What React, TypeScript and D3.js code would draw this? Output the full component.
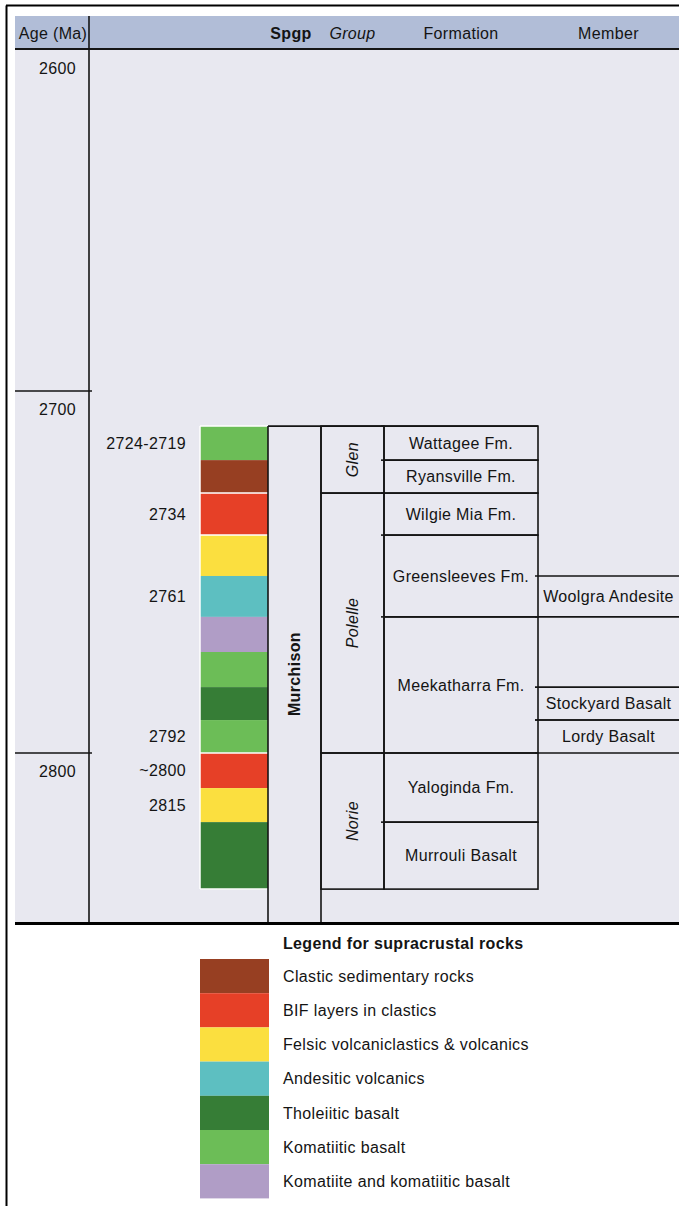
import React from "react";
import * as d3 from "d3";

// ---- Data ----
const ageTicks = [2600, 2700, 2800];
const ageTickPixels = [50, 391, 753]; // axis is not linear in the original

const rockTypes = [
  "Clastic sedimentary rocks",
  "BIF layers in clastics",
  "Felsic volcaniclastics & volcanics",
  "Andesitic volcanics",
  "Tholeiitic basalt",
  "Komatiitic basalt",
  "Komatiite and komatiitic basalt",
];
const rockColors = ["#973f22", "#e64027", "#fbdf3f", "#5dbfc1", "#367d36", "#6cbd57", "#b09dc6"];

// layers: top age, base age, rock type index, age label
const layerTops = [2709.7, 2719.1, 2728.2, 2739.8, 2751.1, 2762.4, 2772.1, 2781.8, 2790.9, 2800, 2809.7, 2819.1];
const layerBases = [2719.1, 2728.2, 2739.8, 2751.1, 2762.4, 2772.1, 2781.8, 2790.9, 2800, 2809.7, 2819.1, 2837.6];
const layerRocks = [5, 0, 1, 2, 3, 6, 5, 4, 5, 1, 2, 4];
const layerAgeLabels = ["2724-2719", "", "2734", "", "2761", "", "", "", "2792", "~2800", "2815", ""];

const supergroupName = "Murchison";
const supergroupTop = 2709.7;
const columnBase = 2846.7;

const groupNames = ["Glen", "Polelle", "Norie"];
const groupTops = [2709.7, 2728.2, 2800];
const groupBases = [2728.2, 2800, 2837.6];

const formationNames = ["Wattagee Fm.", "Ryansville Fm.", "Wilgie Mia Fm.", "Greensleeves Fm.", "Meekatharra Fm.", "Yaloginda Fm.", "Murrouli Basalt"];
const formationTops = [2709.7, 2719.1, 2728.2, 2739.8, 2762.4, 2800, 2819.1];
const formationBases = [2719.1, 2728.2, 2739.8, 2762.4, 2800, 2819.1, 2837.6];

const memberNames = ["Woolgra Andesite", "Stockyard Basalt", "Lordy Basalt"];
const memberTops = [2751.1, 2781.8, 2790.9];
const memberBases = [2762.4, 2790.9, 2800];

const headerLabels = ["Age (Ma)", "Spgp", "Group", "Formation", "Member"];

// ---- Layout ----
const W = 679;
const H = 1206;
const FONT = "'Liberation Sans', Arial, Helvetica, sans-serif";
const TXT = "#141414";
const LINE = "#151515";
const LS = 0.35;

export default function App() {
  const y = d3.scaleLinear().domain(ageTicks).range(ageTickPixels);
  const x = {
    left: 15,
    age: 89,
    colL: 200,
    colR: 268,
    grpL: 321,
    fmL: 384,
    memL: 538,
    right: 679,
  };
  const headerTop = 16;
  const headerBot = 49;
  const bodyBot = y(columnBase);

  const legendY = d3
    .scaleBand<number>()
    .domain(d3.range(rockTypes.length))
    .range([959, 959 + 34.2 * rockTypes.length]);

  const headerCenters = [
    (x.left + x.age) / 2 + 1,
    291,
    (x.grpL + x.fmL) / 2,
    (x.fmL + x.memL) / 2,
    (x.memL + x.right) / 2,
  ];

  return (
    <svg
      width={W}
      height={H}
      style={{ position: "absolute", left: 0, top: 0, background: "#fff" }}
      fontFamily={FONT}
      letterSpacing={LS}
    >
      {/* outer frame */}
      <line x1={6.5} y1={5.5} x2={6.5} y2={H} stroke="#000" strokeWidth={2} />
      <line x1={6} y1={5.5} x2={W} y2={5.5} stroke="#000" strokeWidth={2} />

      {/* header + body backgrounds */}
      <rect x={x.left} y={headerTop} width={x.right - x.left} height={headerBot - headerTop} fill="#b1bdd7" />
      <rect x={x.left} y={headerBot} width={x.right - x.left} height={bodyBot - headerBot} fill="#e8e8f0" />

      {/* header labels */}
      {headerLabels.map((t, i) => (
        <text
          key={t}
          x={headerCenters[i]}
          y={33}
          dy="0.35em"
          textAnchor="middle"
          fontSize={16}
          fill={TXT}
          fontWeight={i === 1 ? "bold" : "normal"}
          fontStyle={i === 2 ? "italic" : "normal"}
        >
          {t}
        </text>
      ))}

      {/* header bottom line */}
      <line x1={x.left} y1={headerBot} x2={x.right} y2={headerBot} stroke={LINE} strokeWidth={2} />

      {/* age column */}
      <line x1={x.age} y1={headerTop} x2={x.age} y2={bodyBot} stroke={LINE} strokeWidth={1.6} />
      {ageTicks.map((t) => (
        <g key={t}>
          {t !== ageTicks[0] && (
            <line x1={x.left} y1={y(t)} x2={x.age + 3} y2={y(t)} stroke={LINE} strokeWidth={1.6} />
          )}
          <text x={76} y={y(t) + 18} dy="0.35em" textAnchor="end" fontSize={16} fill={TXT}>
            {t}
          </text>
        </g>
      ))}

      {/* stratigraphic column */}
      {layerTops.map((top, i) => (
        <g key={"l" + i}>
          <rect
            x={x.colL}
            y={y(top)}
            width={x.colR - x.colL}
            height={y(layerBases[i]) - y(top)}
            fill={rockColors[layerRocks[i]]}
          />
          {layerAgeLabels[i] && (
            <text
              x={186}
              y={(y(top) + y(layerBases[i])) / 2}
              dy="0.35em"
              textAnchor="end"
              fontSize={16}
              fill={TXT}
            >
              {layerAgeLabels[i]}
            </text>
          )}
        </g>
      ))}
      {/* white separators */}
      {[2709.7, 2728.2, 2739.8, 2800, 2837.6].map((a) => (
        <line key={"w" + a} x1={x.colL} y1={y(a)} x2={x.colR} y2={y(a)} stroke="#fff" strokeWidth={1.5} />
      ))}
      <line x1={x.colL} y1={y(layerTops[0])} x2={x.colL} y2={y(layerBases[layerBases.length - 1])} stroke="#fff" strokeWidth={1.5} />

      {/* supergroup */}
      <line x1={x.colR} y1={y(supergroupTop)} x2={x.memL} y2={y(supergroupTop)} stroke={LINE} strokeWidth={1.6} />
      <line x1={x.colR} y1={y(supergroupTop)} x2={x.colR} y2={bodyBot} stroke={LINE} strokeWidth={1.6} />
      <line x1={x.grpL} y1={y(supergroupTop)} x2={x.grpL} y2={bodyBot} stroke={LINE} strokeWidth={1.6} />
      <text
        transform={`translate(${(x.colR + x.grpL) / 2},${(y(supergroupTop) + bodyBot) / 2}) rotate(-90)`}
        dy="0.35em"
        textAnchor="middle"
        fontSize={16}
        fontWeight="bold"
        fill={TXT}
      >
        {supergroupName}
      </text>

      {/* groups */}
      {groupNames.map((g, i) => (
        <g key={g}>
          <rect
            x={x.grpL}
            y={y(groupTops[i])}
            width={x.fmL - x.grpL}
            height={y(groupBases[i]) - y(groupTops[i])}
            fill="none"
            stroke={LINE}
            strokeWidth={1.6}
          />
          <text
            transform={`translate(${(x.grpL + x.fmL) / 2},${(y(groupTops[i]) + y(groupBases[i])) / 2}) rotate(-90)`}
            dy="0.35em"
            textAnchor="middle"
            fontSize={16}
            fontStyle="italic"
            fill={TXT}
          >
            {g}
          </text>
        </g>
      ))}

      {/* formations */}
      {formationNames.map((f, i) => (
        <g key={f}>
          <rect
            x={x.fmL}
            y={y(formationTops[i])}
            width={x.memL - x.fmL}
            height={y(formationBases[i]) - y(formationTops[i])}
            fill="none"
            stroke={LINE}
            strokeWidth={1.6}
          />
          <line x1={x.fmL - 3} y1={y(formationTops[i])} x2={x.fmL} y2={y(formationTops[i])} stroke={LINE} strokeWidth={1.6} />
          <text
            x={(x.fmL + x.memL) / 2}
            y={(y(formationTops[i]) + y(formationBases[i])) / 2}
            dy="0.35em"
            textAnchor="middle"
            fontSize={16}
            fill={TXT}
          >
            {f}
          </text>
        </g>
      ))}

      {/* members */}
      {memberNames.map((m, i) => (
        <g key={m}>
          <line x1={x.memL - 3} y1={y(memberTops[i])} x2={x.right} y2={y(memberTops[i])} stroke={LINE} strokeWidth={1.6} />
          <line x1={x.memL - 3} y1={y(memberBases[i])} x2={x.right} y2={y(memberBases[i])} stroke={LINE} strokeWidth={1.6} />
          <text
            x={(x.memL + x.right) / 2}
            y={(y(memberTops[i]) + y(memberBases[i])) / 2}
            dy="0.35em"
            textAnchor="middle"
            fontSize={16}
            fill={TXT}
          >
            {m}
          </text>
        </g>
      ))}

      {/* bottom line of the table */}
      <line x1={x.left} y1={bodyBot + 1.5} x2={x.right} y2={bodyBot + 1.5} stroke="#000" strokeWidth={3} />

      {/* legend */}
      <text x={283} y={943} dy="0.35em" fontSize={16} fontWeight="bold" fill={TXT}>
        Legend for supracrustal rocks
      </text>
      {rockTypes.map((r, i) => (
        <g key={r}>
          <rect x={200} y={legendY(i)!} width={69} height={legendY.bandwidth()} fill={rockColors[i]} />
          <text x={283} y={legendY(i)! + legendY.bandwidth() / 2} dy="0.35em" fontSize={16} fill={TXT}>
            {r}
          </text>
        </g>
      ))}
    </svg>
  );
}
